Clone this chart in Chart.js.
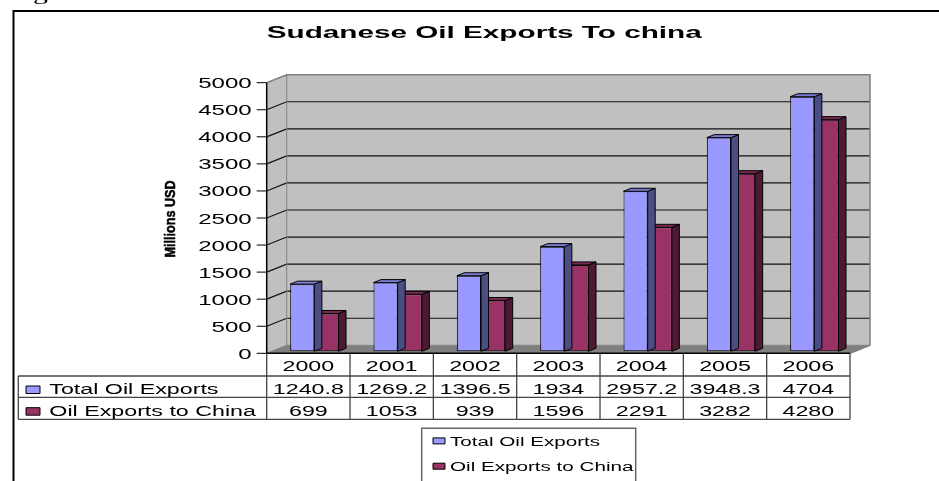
<!DOCTYPE html>
<html>
<head>
<meta charset="utf-8">
<title>Sudanese Oil Exports To china</title>
<script src="https://cdn.jsdelivr.net/npm/chart.js@4.4.1/dist/chart.umd.min.js"></script>
<style>
    html, body { margin: 0; padding: 0; background: #fff; }
    #chart { display: block; }
</style>
</head>
<body>
<canvas id="chart" width="939" height="481"></canvas>
<script>
// ---- data ----
const YEARS = ['2000', '2001', '2002', '2003', '2004', '2005', '2006'];
const TOTAL_EXPORTS = [1240.8, 1269.2, 1396.5, 1934, 2957.2, 3948.3, 4704];
const CHINA_EXPORTS = [699, 1053, 939, 1596, 2291, 3282, 4280];
const SERIES_NAMES = ['Total Oil Exports', 'Oil Exports to China'];
const Y_TICKS = [0, 500, 1000, 1500, 2000, 2500, 3000, 3500, 4000, 4500, 5000];

const TITLE = 'Sudanese Oil Exports To china';
const Y_TITLE = 'Millions USD';

// ---- styles ----
const FONT = '"Liberation Sans", Arial, sans-serif';
const colors = {
    blue: { front: '#9999ff', side: '#4d4d86', top: '#7b7bd6' },
    red: { front: '#993366', side: '#4d1a33', top: '#7a2952' },
    wall: '#c0c0c0',
    floor: '#808080',
    edge: '#808080',
    grid: '#111',
    table: '#444'
};
const SERIES_STYLE = [colors.blue, colors.red];

// 3d look (Excel style)
const WALL_DX = 20, WALL_DY = -8;
const BAR_DX = 6, BAR_DY = -2;
const DEPTH_X = 7.5, DEPTH_Y = -3;
const SX = 1.66;   // horizontal text stretch of the original picture

// table rows (below the floor)
const TABLE_LEFT = 18.3;
const ROW_LINES = [376, 397.3, 419.3];

function poly(ctx, pts, fill, stroke, w) {
    ctx.beginPath();
    ctx.moveTo(pts[0][0], pts[0][1]);
    for (let i = 1; i < pts.length; i++) ctx.lineTo(pts[i][0], pts[i][1]);
    ctx.closePath();
    if (fill) { ctx.fillStyle = fill; ctx.fill(); }
    if (stroke) { ctx.strokeStyle = stroke; ctx.lineWidth = w || 1; ctx.stroke(); }
}

function line(ctx, pts, color, w) {
    ctx.beginPath();
    ctx.moveTo(pts[0][0], pts[0][1]);
    for (let i = 1; i < pts.length; i++) ctx.lineTo(pts[i][0], pts[i][1]);
    ctx.strokeStyle = color;
    ctx.lineWidth = w || 1;
    ctx.stroke();
}

// stretched text, like the scaled source image
function sText(ctx, str, x, y, font, align, sx) {
    ctx.save();
    ctx.font = font;
    ctx.translate(x, y);
    ctx.scale(sx, 1);
    ctx.textAlign = align;
    ctx.textBaseline = 'alphabetic';
    ctx.fillStyle = '#000';
    ctx.fillText(str, 0, 0);
    ctx.restore();
}

const excel3d = {
    id: 'excel3d',
    beforeDatasetsDraw(chart) {
        const { ctx, chartArea: a, scales: { y } } = chart;
        const L = a.left, R = a.right, T = a.top, B = a.bottom;
        ctx.save();
        // back wall, side wall, floor
        poly(ctx, [[L + WALL_DX, T + WALL_DY], [R + WALL_DX, T + WALL_DY], [R + WALL_DX, B + WALL_DY], [L + WALL_DX, B + WALL_DY]], colors.wall);
        poly(ctx, [[L, T], [L + WALL_DX, T + WALL_DY], [L + WALL_DX, B + WALL_DY], [L, B]], colors.wall);
        poly(ctx, [[L, B], [L + WALL_DX, B + WALL_DY], [R + WALL_DX, B + WALL_DY], [R, B]], colors.floor, colors.edge, 1);
        // gridlines
        Y_TICKS.forEach(v => {
            if (v === 0 || v === Y_TICKS[Y_TICKS.length - 1]) return;
            const py = y.getPixelForValue(v);
            line(ctx, [[L, py], [L + WALL_DX, py + WALL_DY], [R + WALL_DX, py + WALL_DY]], colors.grid, 1.2);
        });
        // wall edges
        line(ctx, [[L, T], [L + WALL_DX, T + WALL_DY], [R + WALL_DX, T + WALL_DY], [R + WALL_DX, B + WALL_DY], [R, B]], colors.edge, 1.5);
        line(ctx, [[L + WALL_DX, T + WALL_DY], [L + WALL_DX, B + WALL_DY]], colors.edge, 1);
        ctx.restore();
        ctx.save();
        ctx.translate(BAR_DX, BAR_DY);
    },
    afterDatasetDraw(chart, args) {
        const ctx = chart.ctx;
        const st = SERIES_STYLE[args.index];
        args.meta.data.forEach(bar => {
            const { x, y, base, width } = bar.getProps(['x', 'y', 'base', 'width'], true);
            const l = x - width / 2, r = x + width / 2;
            poly(ctx, [[r, y], [r + DEPTH_X, y + DEPTH_Y], [r + DEPTH_X, base + DEPTH_Y], [r, base]], st.side, '#000', 1);
            poly(ctx, [[l, y], [l + DEPTH_X, y + DEPTH_Y], [r + DEPTH_X, y + DEPTH_Y], [r, y]], st.top, '#000', 1);
        });
    },
    afterDatasetsDraw(chart) {
        chart.ctx.restore();
    },
    afterDraw(chart) {
        const { ctx, chartArea: a, scales: { x, y } } = chart;
        const L = a.left, R = a.right, T = a.top, B = a.bottom;
        ctx.save();

        // value axis
        line(ctx, [[L, T], [L, B], [R, B]], '#000', 1.5);
        Y_TICKS.forEach(v => {
            const py = y.getPixelForValue(v);
            line(ctx, [[L - 10, py], [L, py]], '#000', 1);
            sText(ctx, String(v), L - 15, py + 5.5, '14px ' + FONT, 'right', 1.72);
        });

        // axis title: tall, condensed bold
        ctx.save();
        ctx.translate(174.5, 219);
        ctx.rotate(-Math.PI / 2);
        ctx.scale(0.9, 1.1);
        ctx.font = 'bold 14px ' + FONT;
        ctx.textAlign = 'center';
        ctx.textBaseline = 'alphabetic';
        ctx.fillStyle = '#000';
        ctx.strokeStyle = '#000';
        ctx.lineWidth = 0.5;
        ctx.fillText(Y_TITLE, 0, 0);
        ctx.strokeText(Y_TITLE, 0, 0);
        ctx.restore();

        // chart title, fitted to the original width
        ctx.font = 'bold 16px ' + FONT;
        const tw = ctx.measureText(TITLE).width;
        sText(ctx, TITLE, 484.2, 38.3, 'bold 16px ' + FONT, 'center', 435 / tw);

        // data table
        const half = (x.getPixelForValue(1) - x.getPixelForValue(0)) / 2;
        const bounds = YEARS.map((_, i) => x.getPixelForValue(i) - half);
        bounds.push(x.getPixelForValue(YEARS.length - 1) + half);
        const bottom = ROW_LINES[ROW_LINES.length - 1];
        bounds.forEach(bx => line(ctx, [[bx, B], [bx, bottom]], colors.table, 1.3));
        line(ctx, [[TABLE_LEFT, ROW_LINES[0]], [TABLE_LEFT, bottom]], colors.table, 1.3);
        ROW_LINES.forEach(ry => line(ctx, [[TABLE_LEFT, ry], [R, ry]], colors.table, 1.3));

        const rows = [TOTAL_EXPORTS, CHINA_EXPORTS];
        const rowBase = [394.3, 416];
        YEARS.forEach((yr, i) => {
            const cx = x.getPixelForValue(i);
            sText(ctx, yr, cx, 370.7, '14px ' + FONT, 'center', SX);
            rows.forEach((vals, r) => sText(ctx, String(vals[i]), cx, rowBase[r], '14px ' + FONT, 'center', SX));
        });
        SERIES_NAMES.forEach((name, r) => {
            const ky = rowBase[r] - 8.3;
            poly(ctx, [[26, ky], [40, ky], [40, ky + 7.5], [26, ky + 7.5]], SERIES_STYLE[r].front, '#000', 1);
            sText(ctx, name, 49.3, rowBase[r], '14px ' + FONT, 'left', SX);
        });

        // legend box
        poly(ctx, [[421.7, 428.3], [635.7, 428.3], [635.7, 500], [421.7, 500]], null, '#666', 1.5);
        const legBase = [445.7, 471];
        SERIES_NAMES.forEach((name, r) => {
            const ky = legBase[r] - 7.8;
            poly(ctx, [[433, ky], [445, ky], [445, ky + 6], [433, ky + 6]], SERIES_STYLE[r].front, '#000', 1);
            sText(ctx, name, 450, legBase[r], '12.5px ' + FONT, 'left', 1.65);
        });

        // outer frame of the figure
        line(ctx, [[13.5, 481], [13.5, 11], [939, 11]], '#000', 2);
        // caption above, cut off by the picture edge
        sText(ctx, 'Figure', 8, 0, '18px "Liberation Serif", serif', 'left', SX);

        ctx.restore();
    }
};

new Chart(document.getElementById('chart'), {
    type: 'bar',
    data: {
        labels: YEARS,
        datasets: SERIES_NAMES.map((name, i) => ({
            label: name,
            data: i === 0 ? TOTAL_EXPORTS : CHINA_EXPORTS,
            backgroundColor: SERIES_STYLE[i].front,
            borderColor: '#000',
            borderWidth: 1,
            borderSkipped: false,
            categoryPercentage: 0.58,
            barPercentage: 1,
            clip: false
        }))
    },
    options: {
        responsive: false,
        animation: false,
        devicePixelRatio: 1,
        events: [],
        layout: { padding: { left: 266.7, right: 89, top: 82.7, bottom: 127.7 } },
        plugins: {
            legend: { display: false },
            title: { display: false },
            tooltip: { enabled: false }
        },
        scales: {
            x: { display: false, offset: true },
            y: { display: false, min: 0, max: 5000, ticks: { stepSize: 500 } }
        }
    },
    plugins: [excel3d]
});
</script>
</body>
</html>
